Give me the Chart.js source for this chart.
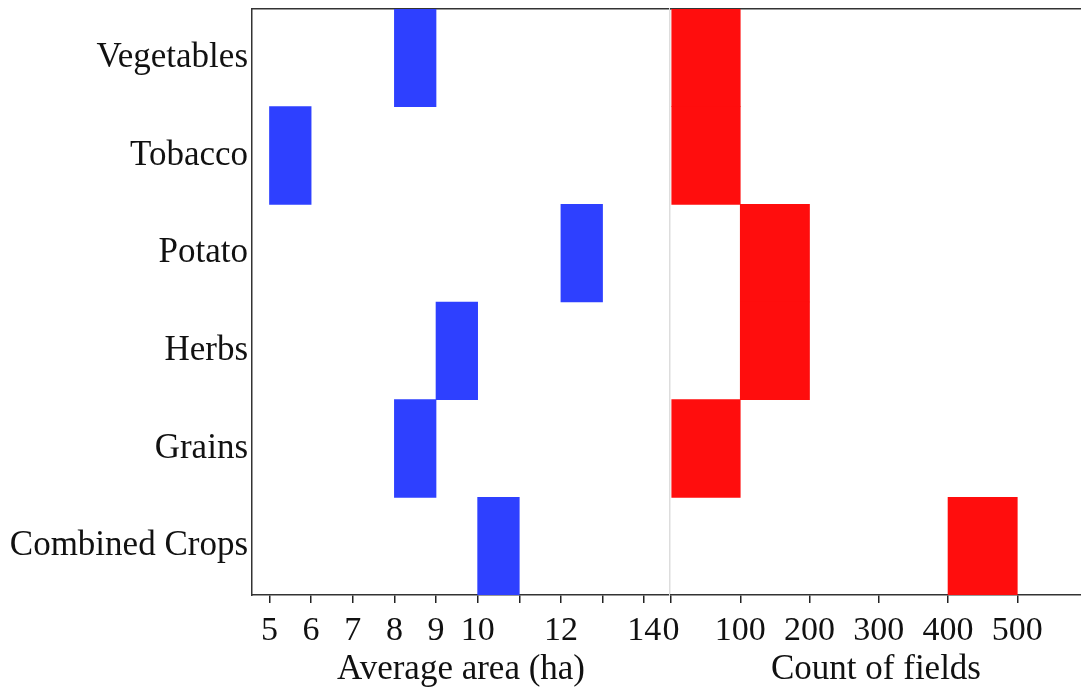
<!DOCTYPE html>
<html>
<head>
<meta charset="utf-8">
<script src="https://cdn.jsdelivr.net/npm/chart.js@4"></script>
<style>
  body { margin: 0; background: #fff; }
  #wrap { position: relative; width: 1081px; height: 691px; }
  canvas { position: absolute; top: 0; }
</style>
</head>
<body>
<div id="wrap">
  <canvas id="areaChart" width="671" height="691" style="left:0"></canvas>
  <canvas id="countChart" width="441" height="691" style="left:640px"></canvas>
</div>
<script>
// crop groups, top to bottom
const crops = ['Vegetables', 'Tobacco', 'Potato', 'Herbs', 'Grains', 'Combined Crops'];
// average area bin (ha) per crop
const areaBins = [[8, 9], [5, 6], [12, 13], [9, 10], [8, 9], [10, 11]];
// count of fields bin per crop
const countBins = [[0, 100], [0, 100], [100, 200], [100, 200], [0, 100], [400, 500]];
// tick marks on each axis, and which area ticks carry a label
const areaTicks = [5, 6, 7, 8, 9, 10, 11, 12, 13, 14];
const areaTickLabels = [5, 6, 7, 8, 9, 10, 12, 14];
const countTicks = [0, 100, 200, 300, 400, 500];

Chart.defaults.font.family = "'Liberation Serif', 'Times New Roman', serif";
Chart.defaults.color = '#111';

const frame = '#333';

function topLine(min, max) {
    return {
        type: 'linear', position: 'top', min: min, max: max,
        ticks: { display: false },
        grid: { display: false },
        border: { color: frame, width: 1.5 },
        afterFit(s) { s.height = 0; }
    };
}

function bottomAxis(min, max, tickValues, title, cb) {
    return {
        type: 'linear', position: 'bottom', min: min, max: max,
        afterBuildTicks(s) { s.ticks = tickValues.map(v => ({ value: v })); },
        ticks: {
            autoSkip: false, maxRotation: 0,
            padding: 8, font: { size: 34 }, callback: cb
        },
        grid: { drawOnChartArea: false, drawTicks: true, tickLength: 8, color: '#222', lineWidth: 1.5 },
        border: { color: frame, width: 1.5 },
        title: { display: true, text: title, font: { size: 35 }, padding: { top: 0, bottom: 0 }, color: '#111' },
        afterFit(s) { s.height = 96; }
    };
}

// left panel: average area
new Chart(document.getElementById('areaChart'), {
    type: 'bar',
    data: {
        labels: crops,
        datasets: [{
            data: areaBins,
            backgroundColor: '#2e40ff',
            borderWidth: 0,
            barPercentage: 1,
            categoryPercentage: 1
        }]
    },
    options: {
        indexAxis: 'y',
        responsive: false,
        animation: false,
        layout: { padding: { top: 9, right: 1, left: 0, bottom: 0 } },
        plugins: { legend: { display: false }, tooltip: { enabled: false } },
        scales: {
            x: bottomAxis(4.58, 14.62, areaTicks, 'Average area (ha)',
                v => areaTickLabels.includes(v) ? String(v) : ''),
            xTop: topLine(4.58, 14.62),
            y: {
                type: 'category', position: 'left',
                ticks: { font: { size: 35 }, padding: 4 },
                grid: { display: false, drawTicks: false },
                border: { color: frame, width: 1.5 },
                afterFit(s) { s.width = 252; s.paddingTop = 0; s.paddingBottom = 0; }
            },
            yRight: {
                type: 'category', position: 'right',
                ticks: { display: false },
                grid: { display: false, drawTicks: false },
                border: { color: '#ddd', width: 1.5 },
                afterFit(s) { s.width = 0; s.paddingTop = 0; s.paddingBottom = 0; }
            }
        }
    }
});

// right panel: count of fields
new Chart(document.getElementById('countChart'), {
    type: 'bar',
    data: {
        labels: crops,
        datasets: [{
            data: countBins,
            backgroundColor: '#ff0d0d',
            borderWidth: 0,
            barPercentage: 1,
            categoryPercentage: 1
        }]
    },
    options: {
        indexAxis: 'y',
        responsive: false,
        animation: false,
        layout: { padding: { top: 9, right: 0, left: 31, bottom: 0 } },
        plugins: { legend: { display: false }, tooltip: { enabled: false } },
        scales: {
            x: bottomAxis(0, 592, countTicks, 'Count of fields', v => String(v)),
            xTop: topLine(0, 592),
            y: { type: 'category', display: false }
        }
    }
});
</script>
</body>
</html>
